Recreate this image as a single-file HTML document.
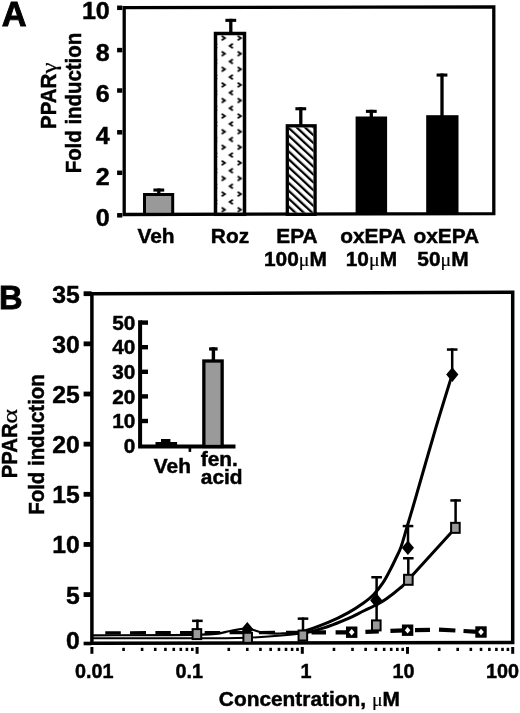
<!DOCTYPE html>
<html lang="en"><head><meta charset="utf-8"><title>PPAR fold induction</title>
<style>
html,body{margin:0;padding:0;background:#fff;}
body{width:520px;height:713px;overflow:hidden;}
svg{display:block;}
text{font-family:"Liberation Sans",Arial,Helvetica,sans-serif;font-weight:bold;fill:#000;}
.g{font-family:"Liberation Serif","DejaVu Serif",serif;font-weight:normal;}
</style></head><body>
<svg width="520" height="713" viewBox="0 0 520 713">
<defs>
<pattern id="chev" x="219.5" y="34.2" width="16" height="15.6" patternUnits="userSpaceOnUse">
<path d="M2.2 1.6 L5.4 3.8 L2.2 6" fill="none" stroke="#000" stroke-width="1.8"/>
<path d="M13.4 9.4 L10.2 11.6 L13.4 13.8" fill="none" stroke="#000" stroke-width="1.8"/>
</pattern>
<pattern id="hatch" x="0" y="0" width="5.75" height="10" patternUnits="userSpaceOnUse" patternTransform="rotate(-47 300 170)">
<rect x="0" y="0" width="2.25" height="10" fill="#000"/>
</pattern>
</defs>
<rect x="0" y="0" width="520" height="713" fill="#fff"/>
<text x="1.8" y="26.3" font-size="34.4" stroke="#000" stroke-width="0.9">A</text>
<path d="M124.2 7.7 L493.8 6.8 L493.8 213.6 L124.2 214.5 Z" fill="none" stroke="#000" stroke-width="3.3" stroke-linejoin="miter"/>
<rect x="117.1" y="213.05" width="5.2" height="4.5" fill="#000"/>
<text transform="translate(109.8 226.4) scale(1.045 1)" font-size="24" text-anchor="end" stroke="#000" stroke-width="0.45">0</text>
<rect x="117.1" y="170.55" width="5.2" height="4.5" fill="#000"/>
<text transform="translate(109.8 184.96) scale(1.045 1)" font-size="24" text-anchor="end" stroke="#000" stroke-width="0.45">2</text>
<rect x="117.1" y="130.05" width="5.2" height="4.5" fill="#000"/>
<text transform="translate(109.8 143.52) scale(1.045 1)" font-size="24" text-anchor="end" stroke="#000" stroke-width="0.45">4</text>
<rect x="117.1" y="88.25" width="5.2" height="4.5" fill="#000"/>
<text transform="translate(109.8 102.08) scale(1.045 1)" font-size="24" text-anchor="end" stroke="#000" stroke-width="0.45">6</text>
<rect x="117.1" y="47.85" width="5.2" height="4.5" fill="#000"/>
<text transform="translate(109.8 60.64) scale(1.045 1)" font-size="24" text-anchor="end" stroke="#000" stroke-width="0.45">8</text>
<rect x="117.1" y="5.55" width="5.2" height="4.5" fill="#000"/>
<text transform="translate(109.8 19.2) scale(1.045 1)" font-size="24" text-anchor="end" stroke="#000" stroke-width="0.45">10</text>
<text transform="translate(56.3 129) rotate(-90) scale(1 1.08)" font-size="20.5" stroke="#000" stroke-width="0.45">PPAR</text>
<text class="g" transform="translate(56.3 73.6) rotate(-90) scale(1.13 1)" font-size="22" stroke="#000" stroke-width="0.25">γ</text>
<text transform="translate(81 173.3) rotate(-90) scale(1 1.08)" font-size="20.4" stroke="#000" stroke-width="0.45">Fold induction</text>
<rect x="157.15" y="188.5" width="3.3" height="5.5" fill="#000"/>
<rect x="153.4" y="188.5" width="10.8" height="3.1" fill="#000"/>
<rect x="144.5" y="194.5" width="28.2" height="19.8" fill="#999" stroke="#000" stroke-width="3"/>
<rect x="229.15" y="18.8" width="3.3" height="14.2" fill="#000"/>
<rect x="225.4" y="18.8" width="10.8" height="3.1" fill="#000"/>
<rect x="215.5" y="33.5" width="29" height="180.8" fill="#fff" stroke="#000" stroke-width="3.5"/>
<rect x="217" y="35" width="26" height="177.7" fill="url(#chev)"/>
<rect x="299.15" y="107.2" width="3.3" height="18.8" fill="#000"/>
<rect x="295.4" y="107.2" width="10.8" height="3.1" fill="#000"/>
<rect x="287.3" y="125.8" width="27.8" height="88.5" fill="#fff" stroke="#000" stroke-width="3.3"/>
<rect x="288.9" y="127.4" width="24.6" height="85.3" fill="url(#hatch)"/>
<rect x="369.65" y="109.8" width="3.3" height="7.2" fill="#000"/>
<rect x="365.9" y="109.8" width="10.8" height="3.1" fill="#000"/>
<rect x="355.6" y="116.5" width="31.5" height="97.8" fill="#000"/>
<rect x="440.35" y="73.5" width="3.3" height="42.5" fill="#000"/>
<rect x="436.6" y="73.5" width="10.8" height="3.1" fill="#000"/>
<rect x="426.2" y="115.2" width="32.3" height="99.1" fill="#000"/>
<text transform="translate(156 242.8) scale(1.045 1)" font-size="20" text-anchor="middle" stroke="#000" stroke-width="0.45">Veh</text>
<text transform="translate(230 242.8) scale(1.045 1)" font-size="20" text-anchor="middle" stroke="#000" stroke-width="0.45">Roz</text>
<text transform="translate(297 242.8) scale(1.045 1)" font-size="20" text-anchor="middle" stroke="#000" stroke-width="0.45">EPA</text>
<text transform="translate(295.4 266.2) scale(1.045 1)" font-size="20" text-anchor="middle" stroke="#000" stroke-width="0.45">100<tspan class="g" font-size="19" stroke-width="0.2">μ</tspan>M</text>
<text transform="translate(373 242.8) scale(1.045 1)" font-size="20" text-anchor="middle" stroke="#000" stroke-width="0.45">oxEPA</text>
<text transform="translate(371.4 266.2) scale(1.045 1)" font-size="20" text-anchor="middle" stroke="#000" stroke-width="0.45">10<tspan class="g" font-size="19" stroke-width="0.2">μ</tspan>M</text>
<text transform="translate(446.3 242.8) scale(1.045 1)" font-size="20" text-anchor="middle" stroke="#000" stroke-width="0.45">oxEPA</text>
<text transform="translate(443 266.2) scale(1.045 1)" font-size="20" text-anchor="middle" stroke="#000" stroke-width="0.45">50<tspan class="g" font-size="19" stroke-width="0.2">μ</tspan>M</text>
<text transform="translate(-1 309.2) scale(0.96 1)" font-size="34" stroke="#000" stroke-width="0.9">B</text>
<path d="M105.3 632.87 L120.8 632.84 M130 632.83 L146 632.8 M155.4 632.78 L170.8 632.75 M180 632.73 L196 632.7 M204.7 632.68 L220.2 632.65 M229.6 632.64 L245 632.61 M259 632.58 L275 632.55 M286 632.53 L302 632.5" fill="none" stroke="#000" stroke-width="3.4"/>
<path d="M311.5 632.48 L326 632.45 M335.6 632.43 L351 632.4 M365.4 631.9 L378.8 631.39 M390.4 630.96 L405 630.41 M415 630.15 L430 629.82 M439 629.62 L455.4 630.5 M463.5 630.98 L478 631.82" fill="none" stroke="#000" stroke-width="4.2"/>
<path d="M92 635.3 C110.33 635.18 179 635.32 202 634.6 C225 633.88 222.5 632.02 230 631 C237.5 629.98 241.67 628.25 247 628.5 C252.33 628.75 256.5 631.67 262 632.5 C267.5 633.33 273.25 633.65 280 633.5 C286.75 633.35 294.37 633.48 302.5 631.6" fill="none" stroke="#000" stroke-width="2.2" stroke-linejoin="round" stroke-linecap="round"/>
<path d="M302.5 631.6 C310.63 629.72 321.22 625.32 328.8 622.2 C336.38 619.08 342.22 616.1 348 612.9 C353.78 609.7 359.25 606.02 363.5 603 C367.75 599.98 370.3 598.1 373.5 594.8 C376.7 591.5 379.88 587.42 382.7 583.2 C385.52 578.98 388.18 573.7 390.4 569.5 C392.62 565.3 394.23 561.75 396 558 C397.77 554.25 399.17 552.17 401 547 C402.83 541.83 404.67 534.83 407 527 C409.33 519.17 410.3 516.17 415 500 C419.7 483.83 429 450.93 435.2 430 C441.4 409.07 449.37 383.67 452.2 374.4" fill="none" stroke="#000" stroke-width="3.0" stroke-linejoin="round" stroke-linecap="round"/>
<path d="M92 638.3 C110.33 638.28 176.17 638.28 202 638.2 C227.83 638.12 230.25 638.63 247 637.8 C263.75 636.97 288.87 635.13 302.5 633.2" fill="none" stroke="#000" stroke-width="2.0" stroke-linejoin="round" stroke-linecap="round"/>
<path d="M302.5 633.2 C316.13 631.27 321.22 628.63 328.8 626.2 C336.38 623.77 342.22 621.13 348 618.6 C353.78 616.07 358.67 613.35 363.5 611 C368.33 608.65 373.17 606.53 377 604.5 C380.83 602.47 382.67 601.52 386.5 598.8 C390.33 596.08 396.37 591.37 400 588.2 C403.63 585.03 399.07 589.85 408.3 579.8 C417.53 569.75 447.55 536.55 455.4 527.9" fill="none" stroke="#000" stroke-width="3.0" stroke-linejoin="round" stroke-linecap="round"/>
<path d="M91.9 293.7 L512.7 292.3 L512.7 642.4 L91.9 643.3 Z" fill="none" stroke="#000" stroke-width="3.5" stroke-linejoin="miter"/>
<rect x="83.6" y="641.7" width="8" height="3.6" fill="#000"/>
<text transform="translate(79.8 648.6) scale(1.03 1)" font-size="24" text-anchor="end" stroke="#000" stroke-width="0.45">0</text>
<rect x="83.6" y="592.2" width="8" height="4.8" fill="#000"/>
<text transform="translate(79.8 604.2) scale(1.03 1)" font-size="24" text-anchor="end" stroke="#000" stroke-width="0.45">5</text>
<rect x="83.6" y="542.05" width="8" height="4.8" fill="#000"/>
<text transform="translate(79.8 552.9) scale(1.03 1)" font-size="24" text-anchor="end" stroke="#000" stroke-width="0.45">10</text>
<rect x="83.6" y="491.9" width="8" height="4.8" fill="#000"/>
<text transform="translate(79.8 503) scale(1.03 1)" font-size="24" text-anchor="end" stroke="#000" stroke-width="0.45">15</text>
<rect x="83.6" y="441.75" width="8" height="4.8" fill="#000"/>
<text transform="translate(79.8 452.8) scale(1.03 1)" font-size="24" text-anchor="end" stroke="#000" stroke-width="0.45">20</text>
<rect x="83.6" y="391.6" width="8" height="4.8" fill="#000"/>
<text transform="translate(79.8 402.9) scale(1.03 1)" font-size="24" text-anchor="end" stroke="#000" stroke-width="0.45">25</text>
<rect x="83.6" y="341.45" width="8" height="4.8" fill="#000"/>
<text transform="translate(79.8 353.2) scale(1.03 1)" font-size="24" text-anchor="end" stroke="#000" stroke-width="0.45">30</text>
<rect x="83.6" y="291.3" width="8" height="4.8" fill="#000"/>
<text transform="translate(79.8 303.3) scale(1.03 1)" font-size="24" text-anchor="end" stroke="#000" stroke-width="0.45">35</text>
<rect x="90.4" y="647" width="3" height="6.8" fill="#000"/>
<rect x="122.27" y="647.8" width="2.6" height="3.2" fill="#000"/>
<rect x="140.79" y="647.8" width="2.6" height="3.2" fill="#000"/>
<rect x="153.94" y="647.8" width="2.6" height="3.2" fill="#000"/>
<rect x="164.13" y="647.8" width="2.6" height="3.2" fill="#000"/>
<rect x="172.46" y="647.8" width="2.6" height="3.2" fill="#000"/>
<rect x="179.5" y="647.8" width="2.6" height="3.2" fill="#000"/>
<rect x="185.61" y="647.8" width="2.6" height="3.2" fill="#000"/>
<rect x="190.99" y="647.8" width="2.6" height="3.2" fill="#000"/>
<rect x="195.6" y="647" width="3" height="6.8" fill="#000"/>
<rect x="227.47" y="647.8" width="2.6" height="3.2" fill="#000"/>
<rect x="245.99" y="647.8" width="2.6" height="3.2" fill="#000"/>
<rect x="259.14" y="647.8" width="2.6" height="3.2" fill="#000"/>
<rect x="269.33" y="647.8" width="2.6" height="3.2" fill="#000"/>
<rect x="277.66" y="647.8" width="2.6" height="3.2" fill="#000"/>
<rect x="284.7" y="647.8" width="2.6" height="3.2" fill="#000"/>
<rect x="290.81" y="647.8" width="2.6" height="3.2" fill="#000"/>
<rect x="296.19" y="647.8" width="2.6" height="3.2" fill="#000"/>
<rect x="300.8" y="647" width="3" height="6.8" fill="#000"/>
<rect x="332.67" y="647.8" width="2.6" height="3.2" fill="#000"/>
<rect x="351.19" y="647.8" width="2.6" height="3.2" fill="#000"/>
<rect x="364.34" y="647.8" width="2.6" height="3.2" fill="#000"/>
<rect x="374.53" y="647.8" width="2.6" height="3.2" fill="#000"/>
<rect x="382.86" y="647.8" width="2.6" height="3.2" fill="#000"/>
<rect x="389.9" y="647.8" width="2.6" height="3.2" fill="#000"/>
<rect x="396.01" y="647.8" width="2.6" height="3.2" fill="#000"/>
<rect x="401.39" y="647.8" width="2.6" height="3.2" fill="#000"/>
<rect x="406" y="647" width="3" height="6.8" fill="#000"/>
<rect x="437.87" y="647.8" width="2.6" height="3.2" fill="#000"/>
<rect x="456.39" y="647.8" width="2.6" height="3.2" fill="#000"/>
<rect x="469.54" y="647.8" width="2.6" height="3.2" fill="#000"/>
<rect x="479.73" y="647.8" width="2.6" height="3.2" fill="#000"/>
<rect x="488.06" y="647.8" width="2.6" height="3.2" fill="#000"/>
<rect x="495.1" y="647.8" width="2.6" height="3.2" fill="#000"/>
<rect x="501.21" y="647.8" width="2.6" height="3.2" fill="#000"/>
<rect x="506.59" y="647.8" width="2.6" height="3.2" fill="#000"/>
<rect x="511.2" y="647" width="3" height="6.8" fill="#000"/>
<text transform="translate(94.3 678.2) scale(0.99 1)" font-size="20" text-anchor="middle" stroke="#000" stroke-width="0.45">0.01</text>
<text transform="translate(189.2 678.2) scale(0.99 1)" font-size="20" text-anchor="middle" stroke="#000" stroke-width="0.45">0.1</text>
<text transform="translate(306 678.2) scale(0.99 1)" font-size="20" text-anchor="middle" stroke="#000" stroke-width="0.45">1</text>
<text transform="translate(403.4 678.2) scale(0.99 1)" font-size="20" text-anchor="middle" stroke="#000" stroke-width="0.45">10</text>
<text transform="translate(502.6 678.2) scale(0.99 1)" font-size="20" text-anchor="middle" stroke="#000" stroke-width="0.45">100</text>
<text transform="translate(309.4 706) scale(1.045 1)" font-size="20" text-anchor="middle" stroke="#000" stroke-width="0.45">Concentration, <tspan class="g" font-size="19" stroke-width="0.2">μ</tspan>M</text>
<text transform="translate(17.3 478.3) rotate(-90) scale(1 1.08)" font-size="20.3" stroke="#000" stroke-width="0.45">PPAR</text>
<text class="g" transform="translate(17.3 423.7) rotate(-90) scale(1.3 1)" font-size="21.6" stroke="#000" stroke-width="0.25">α</text>
<text transform="translate(43.6 514.7) rotate(-90) scale(1 1.08)" font-size="20.4" stroke="#000" stroke-width="0.45">Fold induction</text>
<rect x="346" y="626.5" width="11.4" height="11.4" fill="#000"/>
<path d="M351.7 629 L354.5 632.2 L351.7 635.4 L348.9 632.2 Z" fill="#fff"/>
<rect x="401.9" y="624.5" width="11.4" height="11.4" fill="#000"/>
<path d="M407.6 627 L410.4 630.2 L407.6 633.4 L404.8 630.2 Z" fill="#fff"/>
<rect x="475.3" y="626.3" width="11.4" height="11.4" fill="#000"/>
<path d="M481 628.8 L483.8 632 L481 635.2 L478.2 632 Z" fill="#fff"/>
<rect x="196.15" y="619.6" width="2.5" height="10.4" fill="#000"/>
<rect x="192.1" y="619.6" width="10.6" height="2.5" fill="#000"/>
<rect x="301.75" y="617.4" width="2.5" height="12.6" fill="#000"/>
<rect x="297.7" y="617.4" width="10.6" height="2.5" fill="#000"/>
<rect x="375.35" y="576" width="2.5" height="45" fill="#000"/>
<rect x="371.3" y="576" width="10.6" height="2.5" fill="#000"/>
<rect x="406.75" y="524.8" width="2.5" height="20.2" fill="#000"/>
<rect x="402.7" y="524.8" width="10.6" height="2.5" fill="#000"/>
<rect x="407.05" y="557" width="2.5" height="18" fill="#000"/>
<rect x="403" y="557" width="10.6" height="2.5" fill="#000"/>
<rect x="454.35" y="499.2" width="2.5" height="23.8" fill="#000"/>
<rect x="450.3" y="499.2" width="10.6" height="2.5" fill="#000"/>
<rect x="450.95" y="348.3" width="2.5" height="21.7" fill="#000"/>
<rect x="446.9" y="348.3" width="10.6" height="2.5" fill="#000"/>
<path d="M247.3 621.9 L253.4 629.2 L247.3 636.5 L241.2 629.2 Z" fill="#000"/>
<path d="M376.3 593.1 L382.4 600.4 L376.3 607.7 L370.2 600.4 Z" fill="#000"/>
<path d="M407.9 540.5 L414 547.8 L407.9 555.1 L401.8 547.8 Z" fill="#000"/>
<path d="M452.3 367.3 L458.4 374.6 L452.3 381.9 L446.2 374.6 Z" fill="#000"/>
<rect x="192.6" y="629.1" width="8.6" height="10" fill="#9a9a9a" stroke="#000" stroke-width="2"/>
<rect x="243.4" y="632.8" width="8.6" height="10" fill="#9a9a9a" stroke="#000" stroke-width="2"/>
<rect x="298.55" y="630.5" width="8.6" height="10" fill="#9a9a9a" stroke="#000" stroke-width="2"/>
<rect x="372" y="620.4" width="8.6" height="10" fill="#9a9a9a" stroke="#000" stroke-width="2"/>
<rect x="404.05" y="574.8" width="8.6" height="10" fill="#9a9a9a" stroke="#000" stroke-width="2"/>
<rect x="451.1" y="522.85" width="8.6" height="10" fill="#9a9a9a" stroke="#000" stroke-width="2"/>
<path d="M140.1 320.3 L140.1 446.4 L235.5 446.4" fill="none" stroke="#000" stroke-width="4"/>
<text transform="translate(135.4 452.7) scale(1.06 1)" font-size="19.6" text-anchor="end" stroke="#000" stroke-width="0.45">0</text>
<rect x="141" y="418.8" width="7" height="4.4" fill="#000"/>
<text transform="translate(135.4 428.1) scale(1.06 1)" font-size="19.6" text-anchor="end" stroke="#000" stroke-width="0.45">10</text>
<rect x="141" y="394.2" width="7" height="4.4" fill="#000"/>
<text transform="translate(135.4 403.5) scale(1.06 1)" font-size="19.6" text-anchor="end" stroke="#000" stroke-width="0.45">20</text>
<rect x="141" y="369.6" width="7" height="4.4" fill="#000"/>
<text transform="translate(135.4 378.9) scale(1.06 1)" font-size="19.6" text-anchor="end" stroke="#000" stroke-width="0.45">30</text>
<rect x="141" y="345" width="7" height="4.4" fill="#000"/>
<text transform="translate(135.4 354.3) scale(1.06 1)" font-size="19.6" text-anchor="end" stroke="#000" stroke-width="0.45">40</text>
<rect x="141" y="320.4" width="7" height="4.4" fill="#000"/>
<text transform="translate(135.4 329.7) scale(1.06 1)" font-size="19.6" text-anchor="end" stroke="#000" stroke-width="0.45">50</text>
<rect x="188.6" y="446.5" width="2.6" height="5.4" fill="#000"/>
<rect x="161" y="439" width="9.4" height="3.6" fill="#000"/>
<rect x="155.5" y="442" width="21.6" height="4.5" fill="#000"/>
<rect x="209.1" y="347.3" width="8.5" height="3.3" fill="#000"/><rect x="211.7" y="347.3" width="3.4" height="13" fill="#000"/>
<rect x="203.85" y="361" width="18.3" height="85.5" fill="#9a9a9a" stroke="#000" stroke-width="3.3"/>
<text transform="translate(172.4 473) scale(1.045 1)" font-size="20" text-anchor="middle" stroke="#000" stroke-width="0.45">Veh</text>
<text transform="translate(219.3 466.2) scale(1.045 1)" font-size="20" text-anchor="middle" stroke="#000" stroke-width="0.45">fen.</text>
<text transform="translate(221.7 484.2) scale(1.045 1)" font-size="20" text-anchor="middle" stroke="#000" stroke-width="0.45">acid</text>
</svg></body></html>
